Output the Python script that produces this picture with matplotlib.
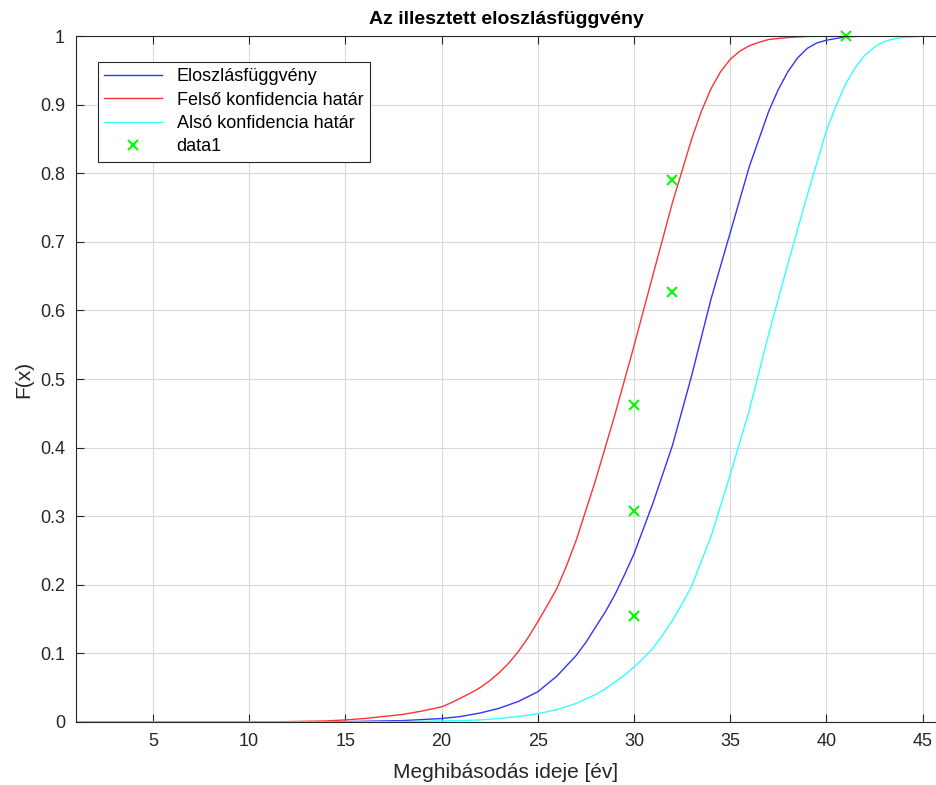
import matplotlib.pyplot as plt

plt.rcParams['font.family'] = ['Liberation Sans', 'DejaVu Sans']

# values
years_red = [1, 10, 12, 14, 15, 16, 17, 18, 19, 20, 20.5, 21, 21.5, 22, 22.5, 23, 23.5, 24,
             24.5, 25, 25.5, 26, 26.5, 27, 28, 29, 30, 31, 32, 33, 33.5, 34, 34.5, 35, 35.5,
             36, 36.5, 37, 38, 39, 40, 45.7]
upper_cdf = [0, 0, 0.0005, 0.0015, 0.003, 0.005, 0.008, 0.011, 0.016, 0.022, 0.028, 0.035,
             0.042, 0.05, 0.06, 0.072, 0.086, 0.103, 0.123, 0.146, 0.17, 0.195, 0.228,
             0.265, 0.352, 0.447, 0.548, 0.653, 0.757, 0.85, 0.89, 0.923, 0.948, 0.966,
             0.978, 0.986, 0.991, 0.995, 0.998, 0.9995, 1.0, 1.0]

years_blue = [1, 12, 15, 17, 18, 19, 20, 21, 22, 23, 24, 25, 26, 27, 27.5, 28, 28.5, 29, 29.5,
              30, 31, 32, 33, 34, 35, 36, 37, 37.5, 38, 38.5, 39, 39.5, 40, 41, 42, 45.7]
fitted_cdf = [0, 0, 0.0005, 0.0015, 0.002, 0.0035, 0.005, 0.008, 0.013, 0.02, 0.03, 0.044,
              0.067, 0.097, 0.116, 0.138, 0.16, 0.185, 0.214, 0.245, 0.32, 0.403, 0.505,
              0.616, 0.713, 0.81, 0.89, 0.922, 0.948, 0.968, 0.982, 0.99, 0.994, 0.999,
              1.0, 1.0]

years_cyan = [1, 15, 18, 20, 21, 22, 23, 24, 25, 26, 27, 28, 28.5, 29, 29.5, 30, 30.5, 31,
              31.5, 32, 32.5, 33, 34, 35, 36, 37, 38, 39, 40, 40.5, 41, 41.5, 42, 42.5, 43,
              43.5, 44, 45, 45.7]
lower_cdf = [0, 0, 0.0005, 0.0015, 0.002, 0.003, 0.005, 0.008, 0.012, 0.018, 0.027, 0.04,
             0.048, 0.058, 0.068, 0.08, 0.093, 0.108, 0.127, 0.148, 0.172, 0.198, 0.27,
             0.36, 0.455, 0.565, 0.668, 0.767, 0.862, 0.898, 0.93, 0.954, 0.972, 0.984,
             0.992, 0.996, 0.998, 1.0, 1.0]

data_x = [30, 30, 30, 32, 32, 41]
data_y = [0.154, 0.308, 0.462, 0.627, 0.790, 1.0]

fig = plt.figure(figsize=(9.36, 7.85), dpi=100)
ax = fig.add_axes([0.0812, 0.0803, 0.9188, 0.8737])

ax.plot(years_blue, fitted_cdf, color='#3333ff', lw=1.0, label='Eloszlásfüggvény')
ax.plot(years_red, upper_cdf, color='#ff3333', lw=1.0, label='Felső konfidencia határ')
ax.plot(years_cyan, lower_cdf, color='#33ffff', lw=1.0, label='Alsó konfidencia határ')
ax.plot(data_x, data_y, 'x', color='#00ff00', ms=7, mew=1.5, label='data1', clip_on=False)

ax.set_xlim(1, 45.7)
ax.set_ylim(0, 1)
ax.set_xticks([5, 10, 15, 20, 25, 30, 35, 40, 45])
ax.set_yticks([i / 10 for i in range(11)])
ax.set_yticklabels(['0', '0.1', '0.2', '0.3', '0.4', '0.5', '0.6', '0.7', '0.8', '0.9', '1'])

ax.grid(True, color='#d9d9d9', lw=0.8)
ax.set_axisbelow(True)
ax.tick_params(direction='in', length=6, width=0.8, colors='#262626', labelsize=13,
               top=True, right=False, pad=8)
ax.spines['right'].set_visible(False)
for s in ax.spines.values():
    s.set_color('#262626')
    s.set_linewidth(0.8)

ax.set_title('Az illesztett eloszlásfüggvény', fontsize=14, fontweight='bold', pad=9)
ax.set_xlabel('Meghibásodás ideje [év]', fontsize=15, color='#262626', labelpad=9)
ax.set_ylabel('F(x)', fontsize=15, color='#262626', labelpad=5)

leg = ax.legend(loc='upper left', bbox_to_anchor=(0.0256, 0.962), fontsize=13,
                fancybox=False, framealpha=1, edgecolor='#262626', borderpad=0.35,
                handlelength=3.2, labelspacing=0.35, borderaxespad=0)
leg.get_frame().set_linewidth(0.8)

fig.savefig('out.png', dpi=100)
